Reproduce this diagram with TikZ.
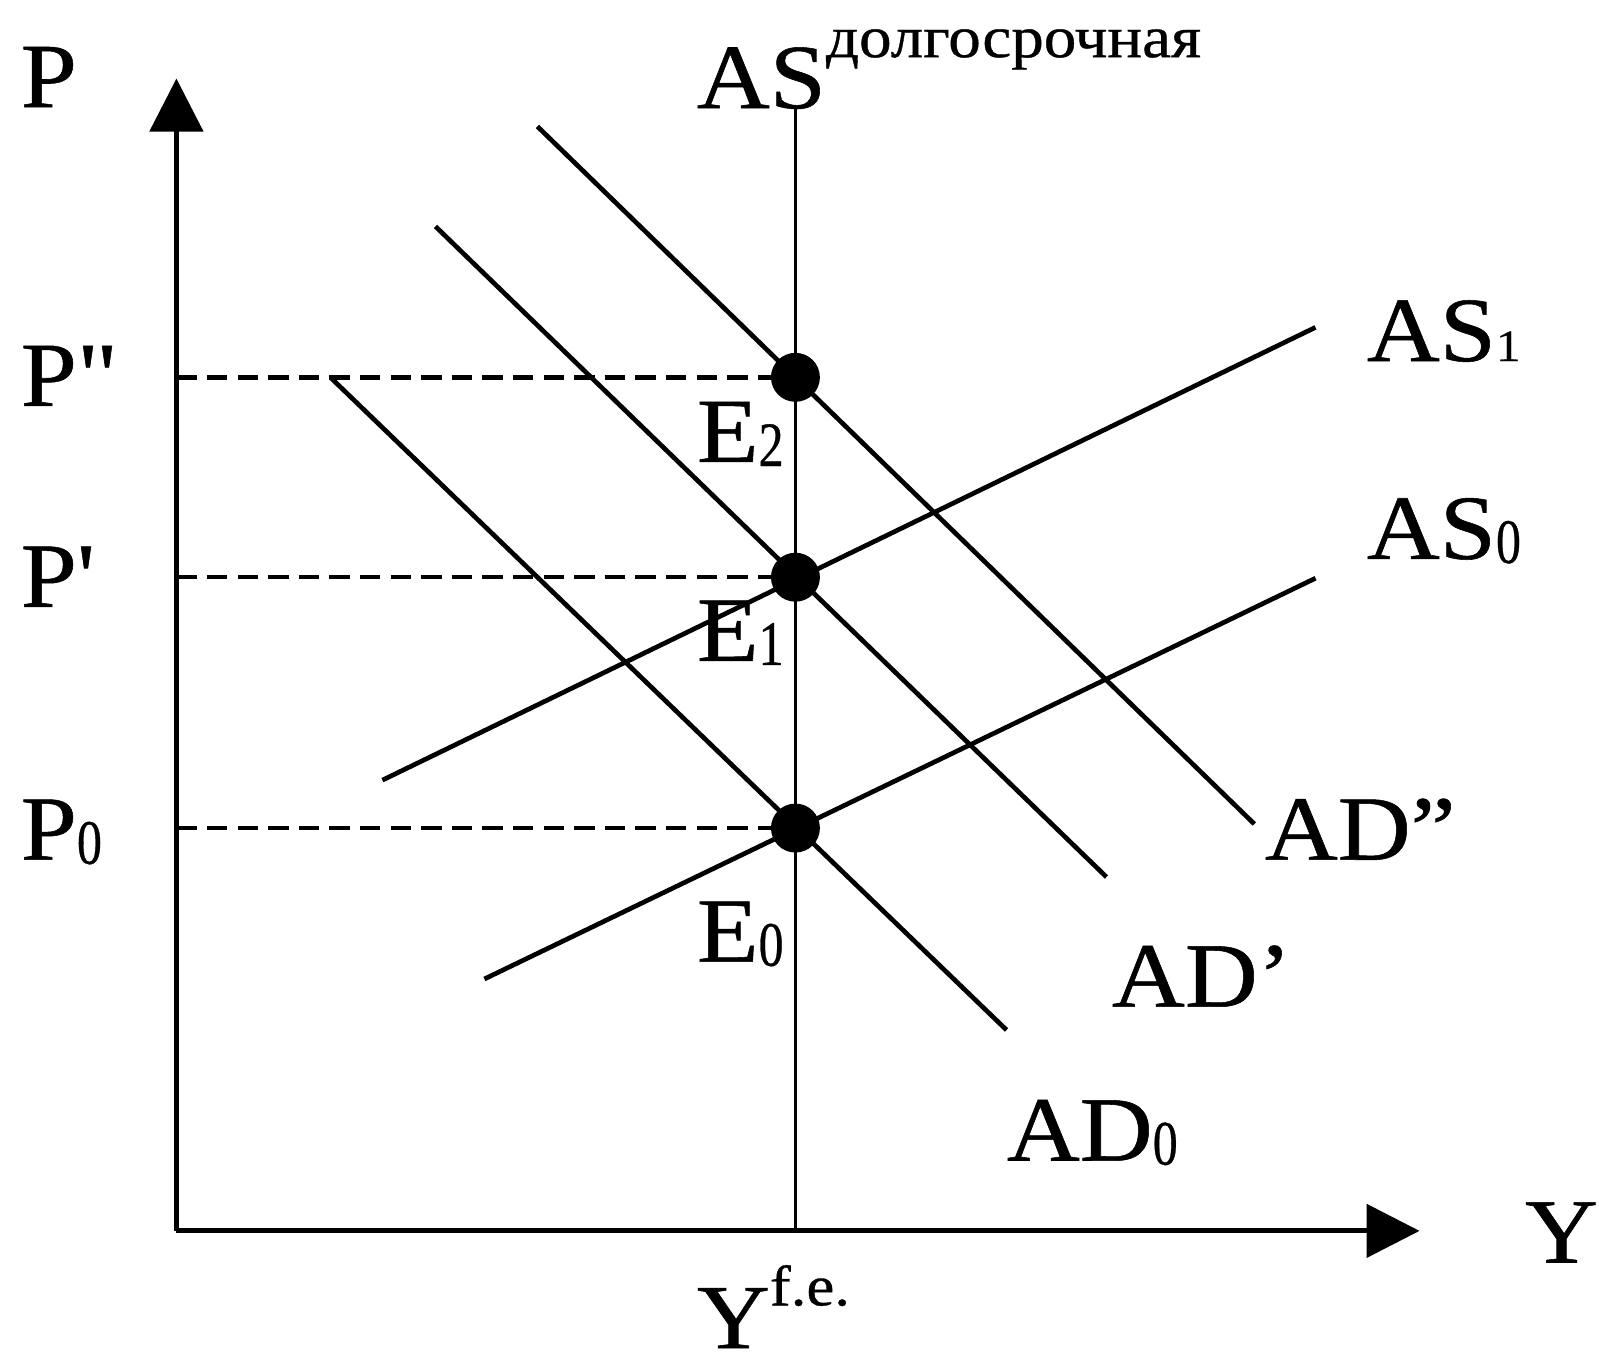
\documentclass[tikz,border=0pt]{standalone}
\usepackage{fontspec}
\usepackage{graphicx}
\newfontfamily\lbl{Liberation Serif}[FakeStretch=1.1,FakeBold=0.6]
\usetikzlibrary{arrows.meta}
\newcommand{\subd}[1]{{\fontsize{31}{31}\selectfont\raisebox{-2pt}{\scalebox{0.72}[1]{#1}}}}
\newcommand{\subs}[1]{{\fontsize{22}{22}\selectfont #1}}
\begin{document}
\begin{tikzpicture}[x=0.5pt,y=-0.5pt,
  lab/.style={inner sep=0pt,anchor=base west,font=\fontsize{45}{47}\selectfont\lbl},
  curve/.style={line width=2.3pt},
  axis/.style={line width=2.4pt,-{Triangle[length=26pt,width=26pt]}},
  guide/.style={line width=2.2pt,dash pattern=on 10pt off 5pt},
  eq/.style={circle,fill=black,minimum size=24pt,inner sep=0pt}]
\useasboundingbox (0,0) rectangle (1568,1340);
% coordinates
\coordinate (O) at (173,1207);
\coordinate (Ytop) at (173,77);
\coordinate (Xend) at (1392,1207);
\coordinate (Ltop) at (780,105);
\coordinate (Lbot) at (780,1207);
\coordinate (PppA) at (173,370);
\coordinate (PpA) at (173,566);
\coordinate (P0A) at (173,812);
\coordinate (ADppA) at (527,124);
\coordinate (ADppB) at (1230,808);
\coordinate (ADpA) at (427,222);
\coordinate (ADpB) at (1085,860);
\coordinate (AD0A) at (325,371);
\coordinate (AD0B) at (987,1010);
\coordinate (AS1A) at (375,765);
\coordinate (AS1B) at (1290,321);
\coordinate (AS0A) at (475,960);
\coordinate (AS0B) at (1290,567);
% axes
\draw[axis] (O) -- (Ytop);
\draw[axis] (O) -- (Xend);
% long-run AS
\draw[line width=1.7pt] (Ltop) -- (Lbot);
% equilibria
\node[eq] (E2) at (780,370) {};
\node[eq] (E1) at (780,566) {};
\node[eq] (E0) at (780,812) {};
% dashed guides
\draw[guide] (PppA) -- (E2.west);
\draw[guide] (PpA) -- (E1.west);
\draw[guide] (P0A) -- (E0.west);
% curves
\draw[curve] (ADppA) -- (ADppB);
\draw[curve] (ADpA) -- (ADpB);
\draw[curve] (AD0A) -- (AD0B);
\draw[curve] (AS1A) -- (AS1B);
\draw[curve] (AS0A) -- (AS0B);
% labels
\node[lab] (lP) at (20,105) {P};
\node[lab] (lPpp) at (20,398) {P"};
\node[lab] (lPp) at (20,595) {P'};
\node[lab] (lP0) at (20,843) {P\subd{0}};
\node[lab] (lAS) at (683,106) {AS\raisebox{25pt}{\fontsize{29}{29}\selectfont долгосрочная}};
\node[lab] (lAS1) at (1340,354) {AS\subs{1}};
\node[lab] (lAS0) at (1340,548) {AS\subd{0}};
\node[lab] (lADpp) at (1240,843) {AD”};
\node[lab] (lADp) at (1090,987) {AD’};
\node[lab] (lAD0) at (987,1138) {AD\subd{0}};
\node[lab] (lY) at (1495,1238) {Y};
\node[lab] (lE2) at (683,453) {E\subd{2}};
\node[lab] (lE1) at (683,648) {E\subd{1}};
\node[lab] (lE0) at (683,943) {E\subd{0}};
\node[lab] (lYfe) at (683,1322) {Y\raisebox{21pt}{\fontsize{28}{28}\selectfont f.e.}};
\end{tikzpicture}
\end{document}
